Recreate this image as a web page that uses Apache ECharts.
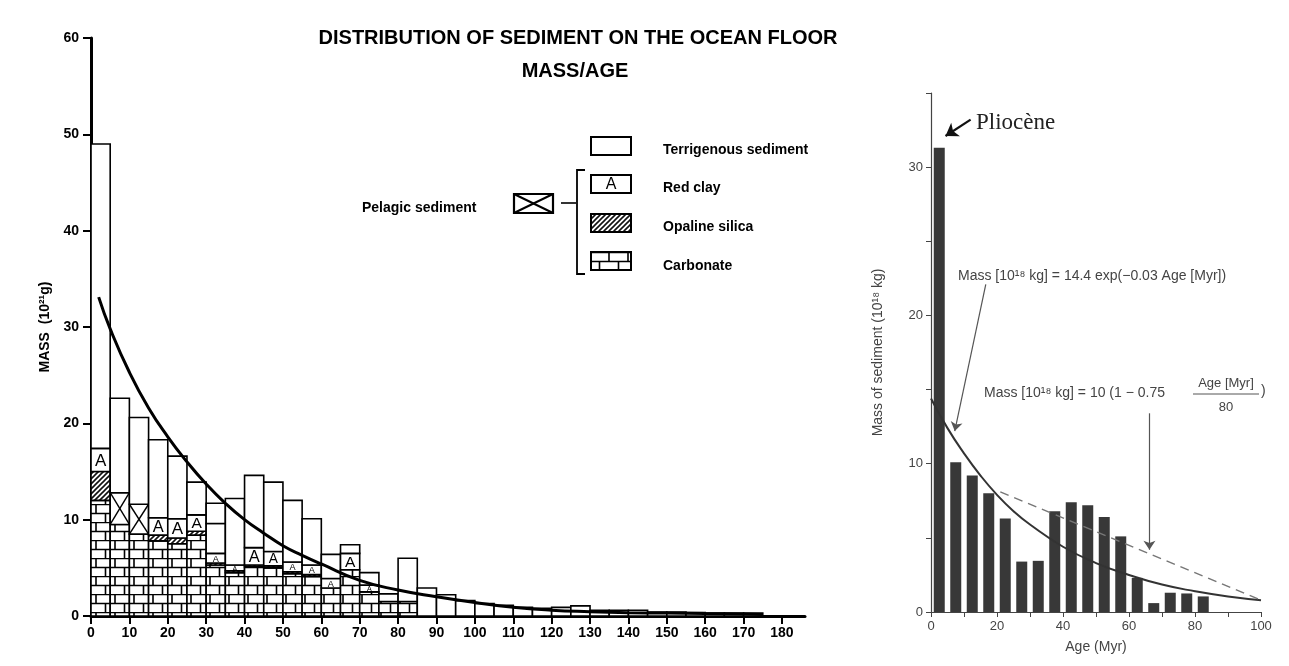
<!DOCTYPE html>
<html><head><meta charset="utf-8">
<script src="https://cdn.jsdelivr.net/npm/echarts@6/dist/echarts.min.js"></script>
<style>html,body{margin:0;padding:0;background:#fff}#c{width:1289px;height:666px}</style>
</head><body><div id="c"></div>
<script>
// ---------- Left chart: mass per 5-Myr age bin (10^21 g) ----------
const binStart = [0,5,10,15,20,25,30,35,40,45,50,55,60,65,70,75,80,85,90,95,100,105,110,115,120,125,130,135,140,145,150,155,160,165,170,175];
const carbonate   = [12.0,9.5,8.5,7.8,7.5,8.4,5.3,4.5,5.1,5.0,4.4,4.1,2.9,4.8,2.5,1.5,1.5,0,0,0,0,0,0,0,0,0,0,0,0,0,0,0,0,0,0,0];
const opaline     = [3.0,0,0,0.6,0.6,0.4,0.2,0.2,0.2,0.2,0.2,0.2,0,0,0,0,0,0,0,0,0,0,0,0,0,0,0,0,0,0,0,0,0,0,0,0];
const redClay     = [2.4,0,0,1.8,2.0,1.7,1.0,0.6,1.8,1.5,1.0,1.0,1.0,1.7,0.7,0,0,0,0,0,0,0,0,0,0,0,0,0,0,0,0,0,0,0,0,0];
const pelagic     = [0,3.3,3.1,0,0,0,0,0,0,0,0,0,0,0,0,0,0,0,0,0,0,0,0,0,0,0,0,0,0,0,0,0,0,0,0,0];
const terrigenous = [31.6,9.8,9.0,8.1,6.5,3.4,3.1,6.9,7.5,7.2,6.4,4.8,2.5,0.9,1.3,0.8,4.5,2.9,2.2,1.6,1.3,1.1,0.9,0.8,0.9,1.05,0.6,0.6,0.6,0.4,0.4,0.35,0.3,0.3,0.3,0];
const terrigenousUpper = [0,0,0,0,0,0,2.1,0,0,0,0,0,0,0,0,0,0,0,0,0,0,0,0,0,0,0,0,0,0,0,0,0,0,0,0,0];
const curveAge  = [2,5,10,15,20,25,30,35,40,45,50,55,60,70,80,90,100,110,120,130,140,150,160,170,175];
const curveMass = [33.1,29.8,25.3,21.6,18.6,16.0,13.7,11.7,10.0,8.6,7.3,6.3,5.4,3.7,2.7,2.0,1.4,0.9,0.6,0.45,0.35,0.3,0.25,0.2,0.15];
const leftXTicks = [0,10,20,30,40,50,60,70,80,90,100,110,120,130,140,150,160,170,180];

// ---------- Right chart: mass of sediment (10^18 kg) ----------
const ageMid   = [2.5,7.5,12.5,17.5,22.5,27.5,32.5,37.5,42.5,47.5,52.5,57.5,62.5,67.5,72.5,77.5,82.5];
const massBars = [31.3,10.1,9.2,8.0,6.3,3.4,3.45,6.8,7.4,7.2,6.4,5.1,2.3,0.6,1.3,1.25,1.05];
const expAge   = [0,5,10,15,20,25,30,40,50,60,70,80,90,100];
const expMass  = [14.4,12.4,10.7,9.2,7.9,6.8,5.9,4.4,3.3,2.5,1.85,1.4,1.05,0.8];
const linAge   = [21,100];
const linMass  = [8.1,0.8];

// ---------- patterns ----------
function makeBrick(){
  const c=document.createElement('canvas'); c.width=38; c.height=18;
  const g=c.getContext('2d'); g.fillStyle='#fff'; g.fillRect(0,0,38,18);
  g.strokeStyle='#000'; g.lineWidth=1.6;
  g.beginPath();
  g.moveTo(0,0.5); g.lineTo(38,0.5); g.moveTo(0,9.5); g.lineTo(38,9.5);
  g.moveTo(1,0); g.lineTo(1,9.5); g.moveTo(20,0); g.lineTo(20,9.5);
  g.moveTo(10.5,9.5); g.lineTo(10.5,18); g.moveTo(29.5,9.5); g.lineTo(29.5,18);
  g.stroke(); return c;
}
function makeHatch(){
  const c=document.createElement('canvas'); c.width=5; c.height=5;
  const g=c.getContext('2d'); g.fillStyle='#fff'; g.fillRect(0,0,5,5);
  g.strokeStyle='#111'; g.lineWidth=1.6;
  g.beginPath(); g.moveTo(-1,6); g.lineTo(6,-1); g.moveTo(-1,1); g.lineTo(1,-1); g.moveTo(4,6); g.lineTo(6,4); g.stroke();
  return c;
}
const brickImg = makeBrick(), hatchImg = makeHatch();
const brickFill = {type:'pattern', image: brickImg, repeat:'repeat'};
const hatchFill = {type:'pattern', image: hatchImg, repeat:'repeat'};

const leftData = binStart.map((s,i)=>[s, s+5, carbonate[i], opaline[i], redClay[i], pelagic[i], terrigenous[i], terrigenousUpper[i]]);

function renderLeft(params, api){
  const x0 = api.value(0), x1 = api.value(1);
  const kinds = ['carb','opal','clay','pel','terr','terr'];
  let base = 0; const children = [];
  kinds.forEach((k, j) => {
    const v = api.value(2 + j);
    if (!(v > 0)) return;
    const p0 = api.coord([x0, base]), p1 = api.coord([x1, base + v]);
    const x = p0[0], y = p1[1], w = p1[0] - p0[0], h = p0[1] - p1[1];
    let fill = '#fff';
    if (k === 'carb') fill = brickFill; else if (k === 'opal') fill = hatchFill;
    children.push({type:'rect', shape:{x, y, width:w, height:h}, style:{fill, stroke:'#000', lineWidth:1.6}});
    if (k === 'clay' && h > 4) {
      children.push({type:'text', style:{text:'A', x:x+w/2, y:y+h/2+1, align:'center', verticalAlign:'middle',
        fontSize: Math.max(7, Math.min(17, h*0.95)), fontFamily:'Liberation Sans, Arial', fill:'#000'}});
    }
    if (k === 'pel') {
      children.push({type:'line', shape:{x1:x, y1:y, x2:x+w, y2:y+h}, style:{stroke:'#000', lineWidth:1.4}});
      children.push({type:'line', shape:{x1:x, y1:y+h, x2:x+w, y2:y}, style:{stroke:'#000', lineWidth:1.4}});
    }
    base += v;
  });
  return {type:'group', children};
}

const boldFont = 'Liberation Sans, Arial, sans-serif';
const chart = echarts.init(document.getElementById('c'), null, {renderer:'canvas'});

// legend swatches (left chart)
const lgX = 591, lgW = 40;
const legendGraphics = [
  {type:'rect', shape:{x:lgX, y:137, width:lgW, height:18}, style:{fill:'#fff', stroke:'#000', lineWidth:2}},
  {type:'rect', shape:{x:lgX, y:175, width:lgW, height:18}, style:{fill:'#fff', stroke:'#000', lineWidth:2}},
  {type:'text', style:{text:'A', x:lgX+lgW/2, y:185, align:'center', verticalAlign:'middle', fontSize:16, fontFamily:boldFont, fill:'#000'}},
  {type:'rect', shape:{x:lgX, y:214, width:lgW, height:18}, style:{fill:hatchFill, stroke:'#000', lineWidth:2}},
  {type:'rect', shape:{x:lgX, y:252, width:lgW, height:18}, style:{fill:brickFill, stroke:'#000', lineWidth:2}},
  {type:'text', style:{text:'Terrigenous sediment', x:663, y:150, verticalAlign:'middle', fontSize:14, fontWeight:'bold', fontFamily:boldFont, fill:'#000'}},
  {type:'text', style:{text:'Red clay', x:663, y:188, verticalAlign:'middle', fontSize:14, fontWeight:'bold', fontFamily:boldFont, fill:'#000'}},
  {type:'text', style:{text:'Opaline silica', x:663, y:227, verticalAlign:'middle', fontSize:14, fontWeight:'bold', fontFamily:boldFont, fill:'#000'}},
  {type:'text', style:{text:'Carbonate', x:663, y:266, verticalAlign:'middle', fontSize:14, fontWeight:'bold', fontFamily:boldFont, fill:'#000'}},
  {type:'text', style:{text:'Pelagic sediment', x:362, y:208, verticalAlign:'middle', fontSize:14, fontWeight:'bold', fontFamily:boldFont, fill:'#000'}},
  {type:'rect', shape:{x:514, y:194, width:39, height:19}, style:{fill:'#fff', stroke:'#000', lineWidth:2.2}},
  {type:'line', shape:{x1:514, y1:194, x2:553, y2:213}, style:{stroke:'#000', lineWidth:2}},
  {type:'line', shape:{x1:514, y1:213, x2:553, y2:194}, style:{stroke:'#000', lineWidth:2}},
  {type:'line', shape:{x1:561, y1:203, x2:576, y2:203}, style:{stroke:'#000', lineWidth:1.6}},
  {type:'polyline', shape:{points:[[585,170],[577,170],[577,274],[585,274]]}, style:{stroke:'#000', lineWidth:1.8, fill:null}},
  {type:'text', style:{text:'DISTRIBUTION OF SEDIMENT ON THE OCEAN FLOOR', x:578, y:38, align:'center', verticalAlign:'middle', fontSize:20, fontWeight:'bold', fontFamily:boldFont, fill:'#000'}},
  {type:'text', style:{text:'MASS/AGE', x:575, y:71, align:'center', verticalAlign:'middle', fontSize:20, fontWeight:'bold', fontFamily:boldFont, fill:'#000'}}
];

const eqFont = 'Liberation Sans, Arial, sans-serif';
const rightGraphics = [
  {type:'text', style:{text:'Pliocène', x:976, y:123, verticalAlign:'middle', fontSize:23, fontFamily:'Liberation Serif, Times New Roman, serif', fill:'#222'}},
  {type:'text', style:{text:'Mass [10¹⁸ kg] = 14.4 exp(\u22120.03 Age [Myr])', x:958, y:276, verticalAlign:'middle', fontSize:14, fontFamily:eqFont, fill:'#444'}},
  {type:'text', style:{text:'Mass [10¹⁸ kg] = 10 (1 \u2212 0.75', x:984, y:393, verticalAlign:'middle', fontSize:14, fontFamily:eqFont, fill:'#444'}},
  {type:'text', style:{text:'Age [Myr]', x:1226, y:383, align:'center', verticalAlign:'middle', fontSize:13, fontFamily:eqFont, fill:'#444'}},
  {type:'line', shape:{x1:1193, y1:394, x2:1259, y2:394}, style:{stroke:'#555', lineWidth:1}},
  {type:'text', style:{text:'80', x:1226, y:407, align:'center', verticalAlign:'middle', fontSize:13, fontFamily:eqFont, fill:'#444'}},
  {type:'text', style:{text:')', x:1261, y:391, verticalAlign:'middle', fontSize:14, fontFamily:eqFont, fill:'#444'}}
];

const option = {
  backgroundColor:'#fff',
  animation:false,
  grid:[
    {left:91, top:38, width:714, height:578},
    {left:931, top:93, width:330, height:519}
  ],
  xAxis:[
    {gridIndex:0, type:'value', min:0, max:186, interval:10,
      axisLine:{lineStyle:{color:'#000', width:3}},
      axisTick:{customValues:leftXTicks, length:8, lineStyle:{color:'#000', width:2}},
      axisLabel:{customValues:leftXTicks, color:'#000', fontSize:14, fontWeight:'bold', fontFamily:boldFont, margin:10},
      splitLine:{show:false}},
    {gridIndex:1, type:'value', min:0, max:100, interval:10,
      axisLine:{lineStyle:{color:'#444', width:1.2}},
      axisTick:{length:5, lineStyle:{color:'#444'}},
      axisLabel:{color:'#444', fontSize:13, fontFamily:eqFont, margin:8, formatter:v => v % 20 === 0 ? String(v) : ''},
      splitLine:{show:false},
      name:'Age (Myr)', nameLocation:'middle', nameGap:28, nameTextStyle:{color:'#444', fontSize:14, fontFamily:eqFont}}
  ],
  yAxis:[
    {gridIndex:0, type:'value', min:0, max:60, interval:10,
      axisLine:{show:true, lineStyle:{color:'#000', width:3}},
      axisTick:{show:true, length:8, lineStyle:{color:'#000', width:2}},
      axisLabel:{color:'#000', fontSize:14, fontWeight:'bold', fontFamily:boldFont, margin:12},
      splitLine:{show:false},
      name:'MASS  (10²¹g)', nameLocation:'middle', nameGap:29, nameRotate:90,
      nameTextStyle:{color:'#000', fontSize:14, fontWeight:'bold', fontFamily:boldFont}},
    {gridIndex:1, type:'value', min:0, max:35, interval:5,
      axisLine:{show:true, lineStyle:{color:'#444', width:1.2}},
      axisTick:{show:true, length:5, lineStyle:{color:'#444'}},
      axisLabel:{color:'#444', fontSize:13, fontFamily:eqFont, margin:8, formatter:v => v % 10 === 0 ? String(v) : ''},
      splitLine:{show:false},
      name:'Mass of sediment (10¹⁸ kg)', nameLocation:'middle', nameGap:46, nameRotate:90,
      nameTextStyle:{color:'#444', fontSize:14, fontFamily:eqFont}}
  ],
  series:[
    {type:'custom', xAxisIndex:0, yAxisIndex:0, renderItem:renderLeft, data:leftData, encode:{x:[0,1], y:[2]}, z:2, clip:false},
    {type:'line', xAxisIndex:0, yAxisIndex:0, data:curveAge.map((a,i)=>[a, curveMass[i]]), smooth:true, symbol:'none',
      lineStyle:{color:'#000', width:3}, z:5},
    {type:'bar', xAxisIndex:1, yAxisIndex:1, data:ageMid.map((a,i)=>[a, massBars[i]]), barWidth:11,
      itemStyle:{color:'#383838'}, z:2,
      markLine:{silent:true, symbol:['none','arrow'], symbolSize:10, label:{show:false}, z:6,
        data:[
          [{coord:[12.0,33.2], symbol:'none', symbolSize:12, lineStyle:{color:'#111', width:2.2, type:'solid'}}, {coord:[4.4,32.1], symbol:'arrow', symbolSize:12}],
          [{coord:[16.6,22.1], symbol:'none', lineStyle:{color:'#555', width:1.2, type:'solid'}}, {coord:[7.2,12.2], symbol:'arrow', symbolSize:9}],
          [{coord:[66.2,13.4], symbol:'none', lineStyle:{color:'#555', width:1.2, type:'solid'}}, {coord:[66.2,4.2], symbol:'arrow', symbolSize:9}]
        ]}},
    {type:'line', xAxisIndex:1, yAxisIndex:1, data:expAge.map((a,i)=>[a, expMass[i]]), smooth:true, symbol:'none',
      lineStyle:{color:'#333', width:2}, z:4},
    {type:'line', xAxisIndex:1, yAxisIndex:1, data:linAge.map((a,i)=>[a, linMass[i]]), symbol:'none',
      lineStyle:{color:'#777', width:1.5, type:[9,6]}, z:4}
  ],
  graphic: legendGraphics.concat(rightGraphics)
};
chart.setOption(option);
</script>
</body></html>
